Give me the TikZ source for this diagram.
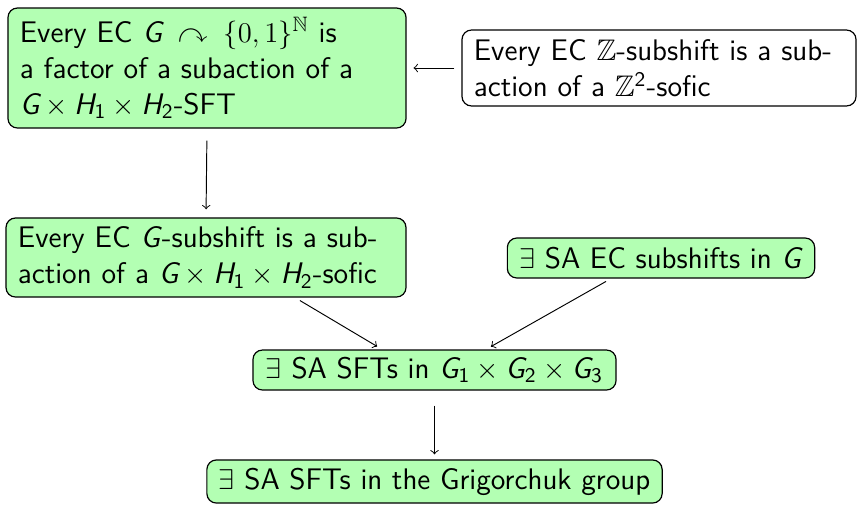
\documentclass[tikz,border=0pt]{standalone}
\usepackage{amsmath,amssymb}
\usetikzlibrary{calc}
\definecolor{boxgreen}{HTML}{B3FFB3}
\newcommand\sfv[1]{\textsf{\slshape #1}}
\newcommand\sfn[1]{\textsf{#1}}
\begin{document}
\begin{tikzpicture}[x=0.42pt,y=-0.42pt,
  every node/.style={font=\sffamily\fontsize{12.5}{15.2}\selectfont},
  box/.style={draw=black, line width=0.5pt, rounded corners=4pt, inner xsep=5pt, inner ysep=0pt},
  gbox/.style={box, fill=boxgreen},
  arr/.style={->, line width=0.4pt}]
\useasboundingbox (0,0) rectangle (857,505);
\node[gbox, minimum width=167.2pt, minimum height=50.4pt, text width=157.2pt, align=left] (A) at (207,68)
  {Every EC $\sfv{G} \;\curvearrowright\; \{0,1\}^{\mathbb{N}}$ is\\ a factor of a subaction of a\\ $\sfv{G}\times\sfv{H}_{\sfn{1}}\times\sfv{H}_{\sfn{2}}$-SFT};
\node[box, fill=white, minimum width=165.5pt, minimum height=31.9pt, text width=155.5pt, align=left] (B) at (659,68)
  {Every EC $\mathbb{Z}$-subshift is a sub-\\action of a $\mathbb{Z}^{\sfn{2}}$-sofic};
\node[gbox, minimum width=168pt, minimum height=33.2pt, text width=158pt, align=left] (C) at (206,257.5)
  {Every EC \sfv{G}-subshift is a sub-\\action of a $\sfv{G}\times\sfv{H}_{\sfn{1}}\times\sfv{H}_{\sfn{2}}$-sofic};
\node[gbox, minimum width=128.5pt, minimum height=16.8pt] (D) at (661,258)
  {$\exists$ SA EC subshifts in \sfv{G}};
\node[gbox, minimum width=152.5pt, minimum height=16.8pt] (E) at (434.5,370)
  {$\exists$ SA SFTs in $\sfv{G}_{\sfn{1}}\times\sfv{G}_{\sfn{2}}\times\sfv{G}_{\sfn{3}}$};
\node[gbox, minimum width=191.1pt, minimum height=18.1pt] (F) at (434.5,481.5)
  {$\exists$ SA SFTs in the Grigorchuk group};
\draw[arr, shorten <=2.9pt, shorten >=2.9pt] (B.west) -- (A.east);
\draw[arr, shorten <=5pt, shorten >=3.4pt] (A.south) -- (C.north);
\draw[arr, shorten <=2.4pt, shorten >=2.4pt] ([xshift=37.4pt]C.south) -- ([xshift=-22pt]E.north);
\draw[arr, shorten <=2.4pt, shorten >=2.4pt] ([xshift=-21pt]D.south) -- ([xshift=21.6pt]E.north);
\draw[arr, shorten <=6.3pt, shorten >=2.1pt] (E.south) -- (F.north);
\end{tikzpicture}
\end{document}
